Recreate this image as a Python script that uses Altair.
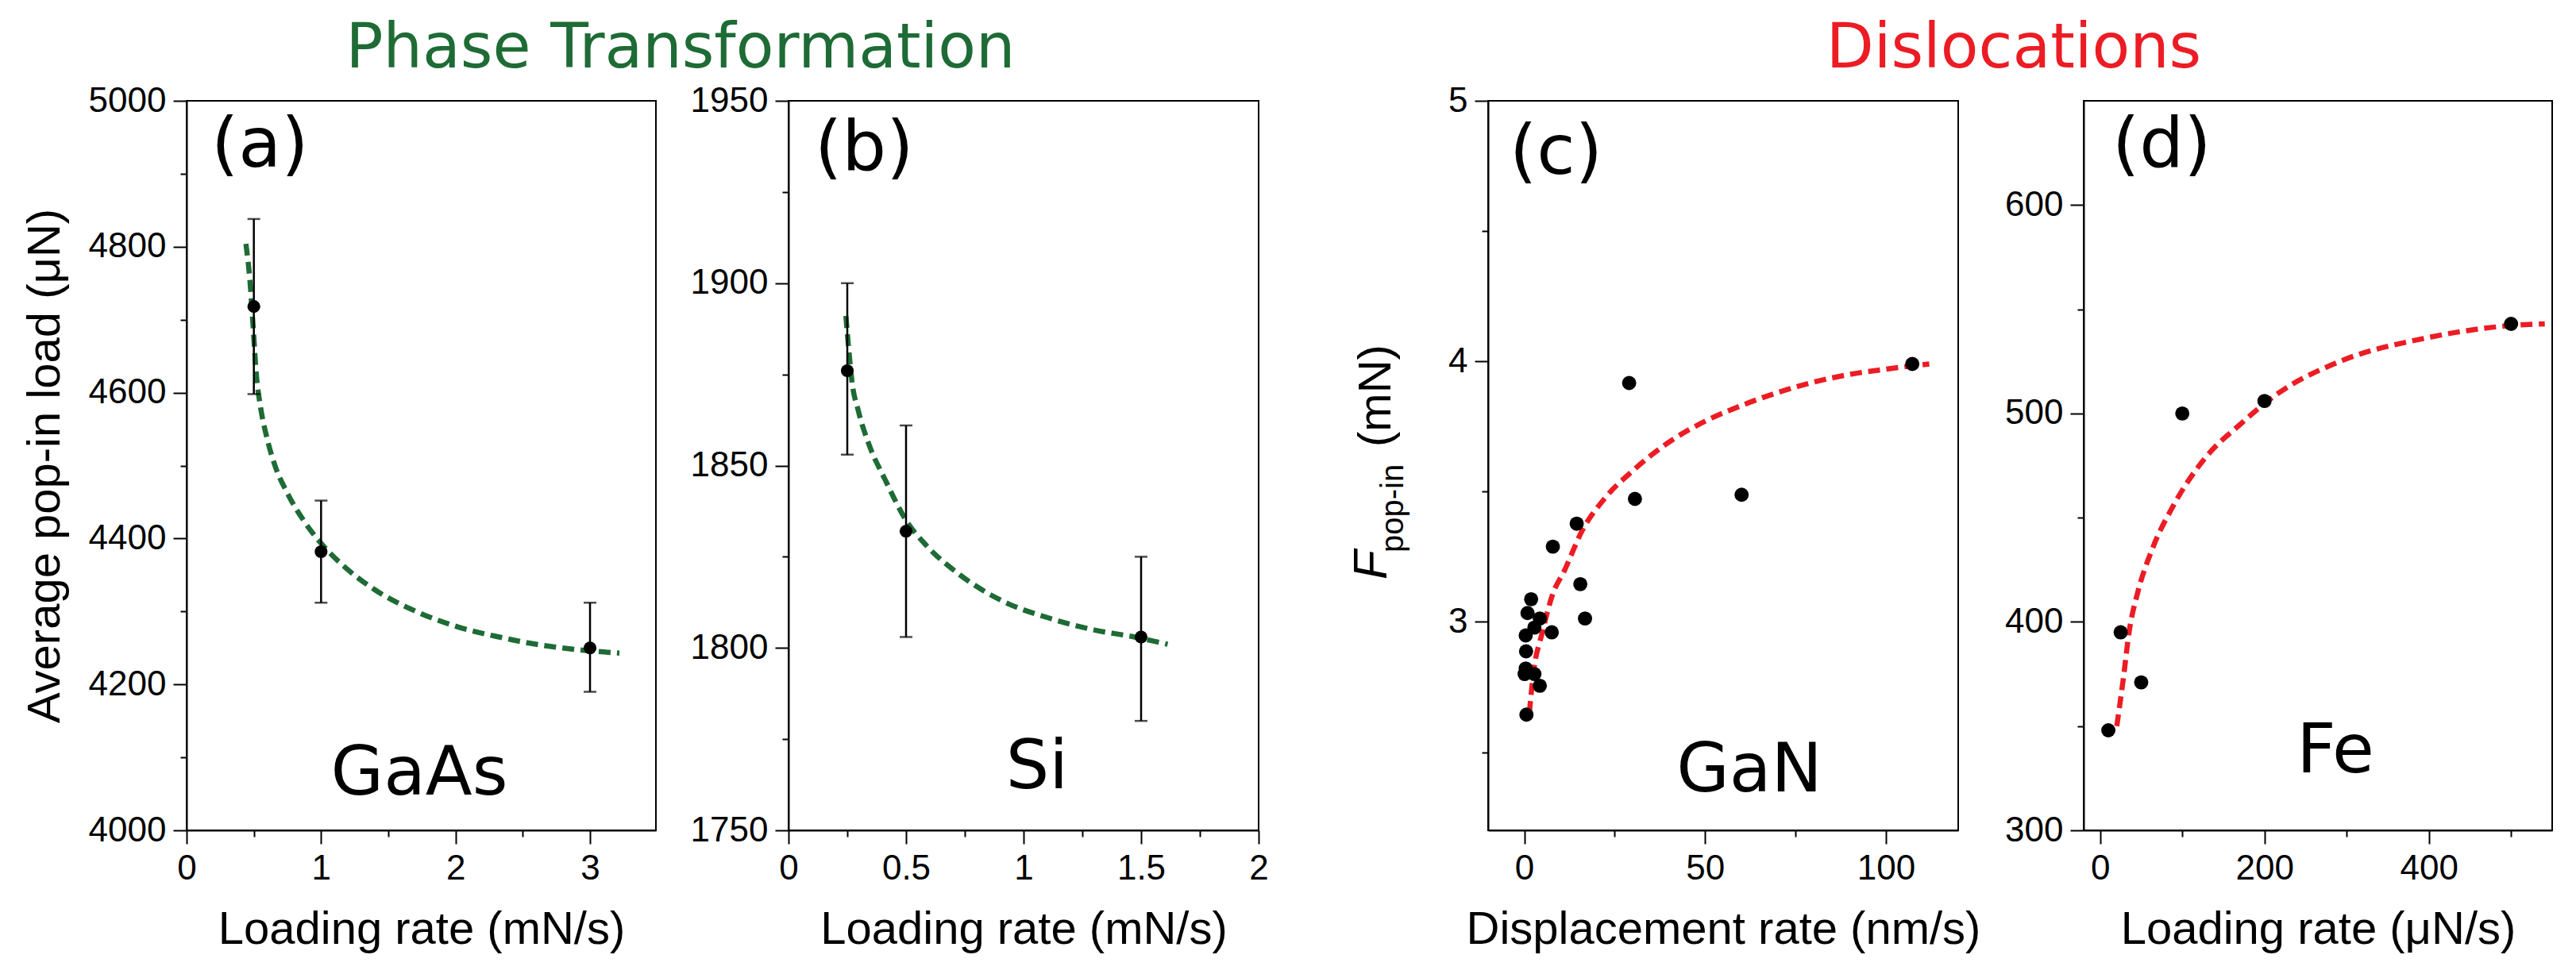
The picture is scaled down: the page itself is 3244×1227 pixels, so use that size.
import altair as alt
import pandas as pd

GREEN = "#1e6b35"
RED = "#ec1c24"

# ---------------- data ----------------
# (a) GaAs
a_rate = [0.5, 1.0, 3.0]
a_load = [4718, 4382, 4250]
a_lo = [4598, 4312, 4190]
a_hi = [4838, 4452, 4312]
a_fit_x = [0.441, 0.472, 0.494, 0.519, 0.549, 0.596, 0.657, 0.750, 0.873, 0.997,
           1.182, 1.398, 1.707, 2.015, 2.324, 2.633, 2.941, 3.219]
a_fit_y = [4804, 4751, 4692, 4624, 4581, 4539, 4500, 4462, 4424, 4394,
           4360, 4330, 4300, 4279, 4265, 4254, 4247, 4243]

# (b) Si
b_rate = [0.25, 0.5, 1.5]
b_load = [1876, 1832, 1803]
b_lo = [1853, 1803, 1780]
b_hi = [1900, 1861, 1825]
b_fit_x = [0.244, 0.256, 0.270, 0.297, 0.341, 0.412, 0.5, 0.588, 0.730, 0.906,
           1.118, 1.295, 1.472, 1.613]
b_fit_y = [1891, 1882, 1873, 1865, 1856, 1846, 1835, 1828, 1820, 1813,
           1808, 1805, 1803, 1801]

# (c) GaN
c_rate = [107.3, 29.0, 30.6, 60.1, 14.5, 7.9, 15.5, 16.8, 1.9, 0.9, 4.3, 7.6,
          2.8, 0.4, 0.5, 0.4, 0.1, 2.8, 4.3, 0.6]
c_force = [3.99, 3.917, 3.472, 3.488, 3.377, 3.289, 3.145, 3.013, 3.087, 3.034,
           3.013, 2.96, 2.978, 2.948, 2.887, 2.821, 2.80, 2.80, 2.755, 2.644]
c_fit_x = [1.4, 2.5, 5.0, 7.7, 11.2, 16.0, 22.0, 30.0, 40.0, 50.0, 60.0, 70.0,
           80.0, 90.0, 100.0, 112.0]
c_fit_y = [2.65, 2.80, 2.96, 3.10, 3.20, 3.35, 3.47, 3.58, 3.69, 3.77, 3.83,
           3.88, 3.92, 3.95, 3.97, 3.99]

# (d) Fe
d_rate = [10, 25, 50, 100, 200, 500]
d_load = [348, 395, 371, 500, 506, 543]
d_fit_x = [20.3, 28, 35.6, 45.7, 63.5, 89, 129.6, 170, 216, 292, 394, 495, 541]
d_fit_y = [350, 372, 396, 414, 435, 455.7, 479.5, 494.6, 509.5, 525, 536, 542, 543]

PANEL_TAGS = ["(a)", "(b)", "(c)", "(d)"]
MATERIALS = ["GaAs", "Si", "GaN", "Fe"]
GROUP_TITLES = ["Phase Transformation", "Dislocations"]
X_TITLES = ["Loading rate (mN/s)", "Loading rate (mN/s)",
            "Displacement rate (nm/s)", "Loading rate (\u03bcN/s)"]
Y_TITLE_A = "Average pop-in load (\u03bcN)"
Y_TITLE_C = ["F", "pop-in", "(mN)"]

# tick values (major + minor)
a_xt = [0, 0.5, 1, 1.5, 2, 2.5, 3]
a_yt = list(range(4000, 5001, 100))
b_xt = [0, 0.25, 0.5, 0.75, 1, 1.25, 1.5, 1.75, 2]
b_yt = list(range(1750, 1951, 25))
c_xt = [0, 25, 50, 75, 100]
c_yt = [2.5, 3, 3.5, 4, 4.5, 5]
d_xt = [0, 100, 200, 300, 400, 500]
d_yt = [300, 350, 400, 450, 500, 550, 600]

W = {"a": 591, "b": 592, "c": 592, "d": 590}
H = 919


def axis(values, major, title, is_x, title_pad=None):
    kw = dict(
        values=values,
        labelExpr=f"({major}) ? '' + datum.value : ''",
        tickDash={"condition": {"test": f"!({major})", "value": [8, 40]}, "value": [40, 1]},
        tickSize=17,
        labelPadding=9,
        labelFlush=False,
        labelOverlap=False,
        grid=False,
    )
    if title is None:
        kw["title"] = None
    else:
        kw["title"] = title
        kw["titlePadding"] = title_pad if title_pad is not None else (26 if is_x else 25)
    return alt.Axis(**kw)


def text_layer(label, x, y, size, align="left", font="DejaVu Sans", angle=None,
               style="normal", color="black"):
    props = dict(align=align, baseline="alphabetic", font=font, fontSize=size,
                 color=color, fontStyle=style)
    if angle is not None:
        props["angle"] = angle
    return alt.Chart(pd.DataFrame({"t": [label]})).mark_text(**props).encode(
        x=alt.value(x), y=alt.value(y), text="t:N")


def panel(key, pts, fit, xdom, ydom, xt, yt, xmaj, ymaj, color, xtitle, ytitle,
          dot, tag, tag_pos, mat, mat_pos, errors=None, extra=None):
    xs = alt.Scale(domain=xdom, nice=False, zero=False)
    ys = alt.Scale(domain=ydom, nice=False, zero=False)
    xa = axis(xt, xmaj, xtitle, True)
    ya = axis(yt, ymaj, ytitle, False)
    line = alt.Chart(fit).mark_line(color=color, strokeWidth=6.5, strokeDash=[15, 8],
                                    interpolate="monotone").encode(
        x=alt.X("x:Q", scale=xs, axis=xa), y=alt.Y("y:Q", scale=ys, axis=ya))
    layers = [line]
    if errors is not None:
        layers.append(alt.Chart(errors).mark_rule(color="black", strokeWidth=2.5).encode(
            x="x:Q", y="lo:Q", y2="hi:Q"))
        layers.append(alt.Chart(errors).mark_tick(color="black", orient="horizontal",
                                                  size=16, thickness=2.5).encode(x="x:Q", y="lo:Q"))
        layers.append(alt.Chart(errors).mark_tick(color="black", orient="horizontal",
                                                  size=16, thickness=2.5).encode(x="x:Q", y="hi:Q"))
    layers.append(alt.Chart(pts).mark_circle(color="black", opacity=1, size=dot).encode(
        x="x:Q", y="y:Q"))
    layers.append(text_layer(tag, tag_pos[0], tag_pos[1], 88))
    layers.append(text_layer(mat, mat_pos[0], mat_pos[1], 86, align="center"))
    if extra:
        layers.extend(extra)
    return alt.layer(*layers).properties(width=W[key], height=H)


pa = panel("a",
           pd.DataFrame({"x": a_rate, "y": a_load}),
           pd.DataFrame({"x": a_fit_x, "y": a_fit_y}),
           [0, 3.49], [4000, 5000], a_xt, a_yt,
           "datum.value % 1 == 0", "datum.value % 200 == 0",
           GREEN, X_TITLES[0], Y_TITLE_A, 260,
           PANEL_TAGS[0], (31, 83), MATERIALS[0], (293, 874),
           errors=pd.DataFrame({"x": a_rate, "lo": a_lo, "hi": a_hi}))

pb = panel("b",
           pd.DataFrame({"x": b_rate, "y": b_load}),
           pd.DataFrame({"x": b_fit_x, "y": b_fit_y}),
           [0, 2], [1750, 1950], b_xt, b_yt,
           "(datum.value * 2) % 1 == 0", "datum.value % 50 == 0",
           GREEN, X_TITLES[1], None, 260,
           PANEL_TAGS[1], (33, 87), MATERIALS[1], (313, 866),
           errors=pd.DataFrame({"x": b_rate, "lo": b_lo, "hi": b_hi}))

c_title = [
    text_layer(Y_TITLE_C[0], -128, 603, 60, font="Liberation Sans", angle=270, style="italic"),
    text_layer(Y_TITLE_C[1], -107, 569, 40, font="Liberation Sans", angle=270),
    text_layer(Y_TITLE_C[2], -123, 436, 58, font="Liberation Sans", angle=270),
]

pc = panel("c",
           pd.DataFrame({"x": c_rate, "y": c_force}),
           pd.DataFrame({"x": c_fit_x, "y": c_fit_y}),
           [-10, 120], [2.2, 5], c_xt, c_yt,
           "datum.value % 50 == 0", "datum.value % 1 == 0",
           RED, X_TITLES[2], None, 320,
           PANEL_TAGS[2], (27, 92), MATERIALS[2], (329, 870),
           extra=c_title)

pd_ = panel("d",
            pd.DataFrame({"x": d_rate, "y": d_load}),
            pd.DataFrame({"x": d_fit_x, "y": d_fit_y}),
            [-20, 550], [300, 650], d_xt, d_yt,
            "datum.value % 200 == 0", "datum.value % 100 == 0",
            RED, X_TITLES[3], None, 320,
            PANEL_TAGS[3], (36, 83), MATERIALS[3], (317, 846))

g1 = alt.hconcat(pa, pb, spacing=167, bounds="flush")
g2 = alt.hconcat(pc, pd_, spacing=158, bounds="flush")
row = alt.hconcat(g1, g2, spacing=98)

# title row; its origin lines up with the plot origin of panel (a)
title_row = alt.layer(
    text_layer(GROUP_TITLES[0], 622, 76, 78, align="center", color=GREEN),
    text_layer(GROUP_TITLES[1], 2301, 76, 78, align="center", color=RED),
).properties(width=2960, height=94, view=alt.ViewBackground(stroke="transparent"))

chart = alt.vconcat(title_row, row, spacing=0).properties(
    padding={"left": 19, "top": 0, "right": 10, "bottom": 10}
).configure_view(
    stroke="black", strokeWidth=2
).configure_axis(
    domainColor="black", domainWidth=2, tickColor="black", tickWidth=2,
    labelColor="black", labelFont="Liberation Sans", labelFontSize=44,
    titleFont="Liberation Sans", titleFontSize=58, titleFontWeight="normal",
    titleColor="black"
)

chart.save("out.html", embed_options={"renderer": "svg", "actions": False})
